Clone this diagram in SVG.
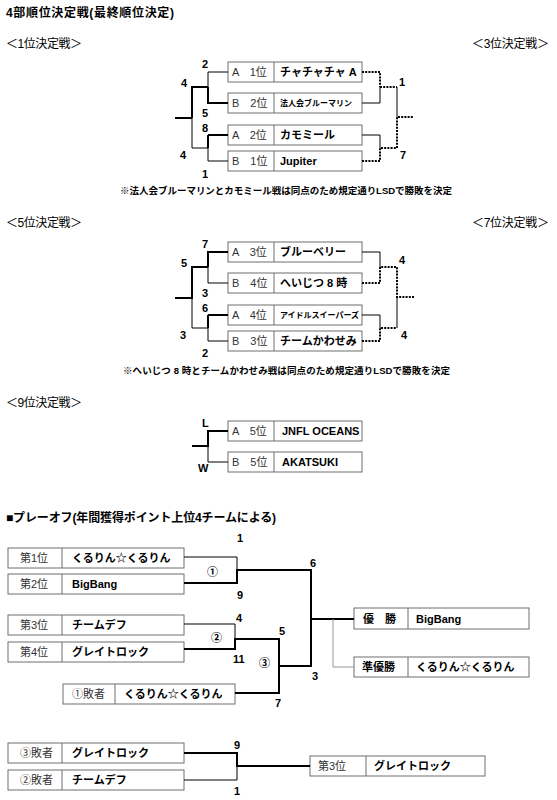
<svg xmlns="http://www.w3.org/2000/svg" width="557" height="800" viewBox="0 0 557 800">
<style>
text{font-family:"Liberation Sans","Noto Sans CJK JP",sans-serif;fill:#000}
.h{font-size:12px;font-weight:bold}
.s{font-size:12px}
.n{font-size:11px;font-weight:bold}
.lab{font-size:11px;fill:#333}
.tm{font-size:11px;font-weight:bold}
.sm{font-size:8px;font-weight:bold}
.note{font-size:9.5px;font-weight:bold}
.bx{fill:#fff;stroke:#6e6e6e;stroke-width:1}
.dv{stroke:#6e6e6e;stroke-width:1}
.c1{stroke:#000;stroke-width:1;fill:none}
.c2{stroke:#000;stroke-width:2;fill:none}
.dt{stroke:#000;stroke-width:2;stroke-dasharray:2 1.2;fill:none}
.gr{stroke:#999;stroke-width:1;fill:none}
</style>

<text class="h" x="6" y="17" textLength="168">4部順位決定戦(最終順位決定)</text>
<text class="s" x="6" y="48" textLength="76">＜1位決定戦＞</text>
<text class="s" x="472" y="48" textLength="77">＜3位決定戦＞</text>
<text class="s" x="6" y="227" textLength="76">＜5位決定戦＞</text>
<text class="s" x="472" y="227" textLength="77">＜7位決定戦＞</text>
<text class="s" x="6" y="407" textLength="76">＜9位決定戦＞</text>
<text class="note" x="120" y="194" textLength="332">※法人会ブルーマリンとカモミール戦は同点のため規定通りLSDで勝敗を決定</text>
<text class="note" x="123" y="374" textLength="327">※へいじつ 8 時とチームかわせみ戦は同点のため規定通りLSDで勝敗を決定</text>
<text class="h" x="6" y="522" textLength="270">■プレーオフ(年間獲得ポイント上位4チームによる)</text>

<g id="s1-b1"><rect class="bx" x="228" y="62" width="134" height="20"/><line class="dv" x1="274" y1="62" x2="274" y2="82"/><text class="lab" x="232" y="76">A　1位</text><text class="tm" x="280" y="76">チャチャチャ A</text></g>
<g id="s1-b2"><rect class="bx" x="228" y="93" width="134" height="20"/><line class="dv" x1="274" y1="93" x2="274" y2="113"/><text class="lab" x="232" y="107">B　2位</text><text class="sm" x="280" y="106">法人会ブルーマリン</text></g>
<g id="s1-b3"><rect class="bx" x="228" y="125" width="134" height="20"/><line class="dv" x1="274" y1="125" x2="274" y2="145"/><text class="lab" x="232" y="139">A　2位</text><text class="tm" x="280" y="139">カモミール</text></g>
<g id="s1-b4"><rect class="bx" x="228" y="151" width="134" height="20"/><line class="dv" x1="274" y1="151" x2="274" y2="171"/><text class="lab" x="232" y="165">B　1位</text><text class="tm" x="280" y="165">Jupiter</text></g>

<g id="s2-b1"><rect class="bx" x="228" y="242" width="134" height="20"/><line class="dv" x1="274" y1="242" x2="274" y2="262"/><text class="lab" x="232" y="256">A　3位</text><text class="tm" x="280" y="256">ブルーベリー</text></g>
<g id="s2-b2"><rect class="bx" x="228" y="273" width="134" height="20"/><line class="dv" x1="274" y1="273" x2="274" y2="293"/><text class="lab" x="232" y="287">B　4位</text><text class="tm" x="280" y="287">へいじつ 8 時</text></g>
<g id="s2-b3"><rect class="bx" x="228" y="305" width="134" height="20"/><line class="dv" x1="274" y1="305" x2="274" y2="325"/><text class="lab" x="232" y="319">A　4位</text><text class="sm" x="280" y="318" font-size="7.5">アイドルスイーパーズ</text></g>
<g id="s2-b4"><rect class="bx" x="228" y="331" width="134" height="20"/><line class="dv" x1="274" y1="331" x2="274" y2="351"/><text class="lab" x="232" y="345">B　3位</text><text class="tm" x="280" y="345">チームかわせみ</text></g>

<g id="s3-b1"><rect class="bx" x="228" y="421" width="134" height="20"/><line class="dv" x1="274" y1="421" x2="274" y2="441"/><text class="lab" x="232" y="435">A　5位</text><text class="tm" x="282" y="435">JNFL  OCEANS</text></g>
<g id="s3-b2"><rect class="bx" x="228" y="452" width="134" height="20"/><line class="dv" x1="274" y1="452" x2="274" y2="472"/><text class="lab" x="232" y="466">B　5位</text><text class="tm" x="282" y="466">AKATSUKI</text></g>

<g id="p-1"><rect class="bx" x="8" y="548" width="176" height="20"/><line class="dv" x1="62" y1="548" x2="62" y2="568"/><text class="lab" x="20" y="562">第1位</text><text class="tm" x="72" y="562">くるりん☆くるりん</text></g>
<g id="p-2"><rect class="bx" x="8" y="574" width="176" height="20"/><line class="dv" x1="62" y1="574" x2="62" y2="594"/><text class="lab" x="20" y="588">第2位</text><text class="tm" x="72" y="588">BigBang</text></g>
<g id="p-3"><rect class="bx" x="8" y="615" width="176" height="20"/><line class="dv" x1="62" y1="615" x2="62" y2="635"/><text class="lab" x="20" y="629">第3位</text><text class="tm" x="72" y="629">チームデフ</text></g>
<g id="p-4"><rect class="bx" x="8" y="642" width="176" height="20"/><line class="dv" x1="62" y1="642" x2="62" y2="662"/><text class="lab" x="20" y="656">第4位</text><text class="tm" x="72" y="656">グレイトロック</text></g>
<g id="p-l1"><rect class="bx" x="63" y="684" width="172" height="20"/><line class="dv" x1="115" y1="684" x2="115" y2="704"/><text class="lab" x="72" y="698">①敗者</text><text class="tm" x="124" y="698">くるりん☆くるりん</text></g>
<g id="p-w"><rect class="bx" x="354" y="608" width="175" height="21"/><line class="dv" x1="408" y1="608" x2="408" y2="629"/><text class="tm" x="363" y="623">優　勝</text><text class="tm" x="416" y="623">BigBang</text></g>
<g id="p-r"><rect class="bx" x="354" y="657" width="175" height="20"/><line class="dv" x1="408" y1="657" x2="408" y2="677"/><text class="tm" x="362" y="671">準優勝</text><text class="tm" x="416" y="671">くるりん☆くるりん</text></g>
<g id="p-l3"><rect class="bx" x="8" y="743" width="176" height="20"/><line class="dv" x1="62" y1="743" x2="62" y2="763"/><text class="lab" x="20" y="757">③敗者</text><text class="tm" x="72" y="757">グレイトロック</text></g>
<g id="p-l2"><rect class="bx" x="8" y="770" width="176" height="20"/><line class="dv" x1="62" y1="770" x2="62" y2="790"/><text class="lab" x="20" y="784">②敗者</text><text class="tm" x="72" y="784">チームデフ</text></g>
<g id="p-3rd"><rect class="bx" x="310" y="756" width="175" height="20"/><line class="dv" x1="366" y1="756" x2="366" y2="776"/><text class="lab" x="318" y="770">第3位</text><text class="tm" x="374" y="770">グレイトロック</text></g>

<g id="connectors">
<path class="c1" d="M228 72H208V87"/>
<path class="c2" d="M208 87V103H228"/>
<path class="c2" d="M208 135H228"/><path class="c2" d="M208 135V148"/>
<path class="c1" d="M208 148V161H228"/>
<path class="c2" d="M208 87H192V118"/>
<path class="c1" d="M192 118V148H208"/>
<path class="c2" d="M175 118H192"/>
<path class="dt" d="M362 72H380V87"/>
<path class="c1" d="M362 103H380V87"/>
<path class="dt" d="M380 87H397"/>
<path class="c1" d="M397 87V117"/>
<path class="c1" d="M362 135H380V148"/>
<path class="dt" d="M362 161H380V148H397V117H414"/>
<path class="c2" d="M228 252H208V267"/>
<path class="c1" d="M208 267V283H228"/>
<path class="c2" d="M208 315H228"/><path class="c2" d="M208 315V328"/>
<path class="c1" d="M208 328V341H228"/>
<path class="c2" d="M208 267H192V298H175"/>
<path class="c1" d="M192 298V328H208"/>
<path class="c1" d="M362 252H380V267"/>
<path class="dt" d="M362 283H380V267H397V297H414"/>
<path class="c1" d="M397 297V328"/>
<path class="c1" d="M362 315H380V328"/>
<path class="dt" d="M362 341H380V328H397"/>
<path class="c2" d="M228 431H208V446H192"/>
<path class="c1" d="M208 446V462H228"/>
<path class="c1" d="M184 557H237V570"/>
<path class="c2" d="M184 583H237V570H311V619H354"/>
<path class="c2" d="M311 619V666H279"/>
<path class="gr" d="M333 619V667H354"/>
<path class="c1" d="M184 624H235V639"/>
<path class="c2" d="M184 649H235V639H279V693H235"/>
<path class="c2" d="M184 753H237V766H310"/>
<path class="c1" d="M237 766V780H184"/>
</g>

<g id="scores">
<text class="n" x="202" y="68">2</text>
<text class="n" x="202" y="117">5</text>
<text class="n" x="202" y="132">8</text>
<text class="n" x="202" y="178">1</text>
<text class="n" x="181" y="87">4</text>
<text class="n" x="180" y="159">4</text>
<text class="n" x="399" y="86">1</text>
<text class="n" x="400" y="159">7</text>
<text class="n" x="202" y="248">7</text>
<text class="n" x="202" y="297">3</text>
<text class="n" x="202" y="312">6</text>
<text class="n" x="202" y="357">2</text>
<text class="n" x="181" y="267">5</text>
<text class="n" x="180" y="339">3</text>
<text class="n" x="399" y="264">4</text>
<text class="n" x="401" y="339">4</text>
<text class="n" x="202" y="427" font-weight="normal">L</text>
<text class="n" x="198" y="472" font-weight="normal">W</text>
<text class="n" x="237" y="542">1</text>
<text class="n" x="237" y="599">9</text>
<text class="n" x="207" y="576" font-weight="normal">①</text>
<text class="n" x="310" y="567">6</text>
<text class="n" x="236" y="622">4</text>
<text class="n" x="233" y="663">11</text>
<text class="n" x="211" y="642" font-weight="normal">②</text>
<text class="n" x="279" y="635">5</text>
<text class="n" x="259" y="667" font-weight="normal">③</text>
<text class="n" x="312" y="680">3</text>
<text class="n" x="275" y="707">7</text>
<text class="n" x="234" y="749">9</text>
<text class="n" x="234" y="795">1</text>
</g>
</svg>
